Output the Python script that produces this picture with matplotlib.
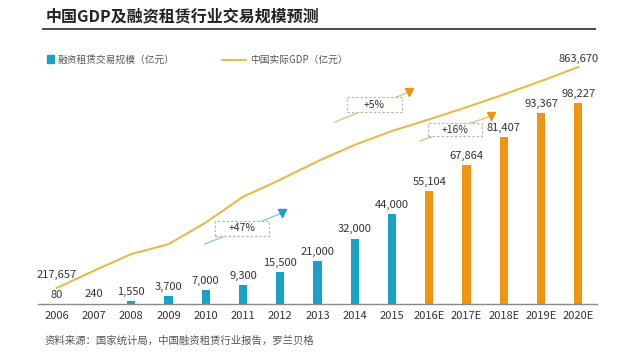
import matplotlib
matplotlib.use("Agg")
import matplotlib.pyplot as plt
from matplotlib.patches import Rectangle, FancyBboxPatch
from matplotlib.lines import Line2D

plt.rcParams['font.family'] = ['Noto Sans CJK SC', 'DejaVu Sans']

years = ["2006", "2007", "2008", "2009", "2010", "2011", "2012", "2013",
         "2014", "2015", "2016E", "2017E", "2018E", "2019E", "2020E"]
leasing = [80, 240, 1550, 3700, 7000, 9300, 15500, 21000, 32000, 44000,
           55104, 67864, 81407, 93367, 98227]
gdp = [217657, 268019, 316752, 345629, 408903, 484124, 534123, 588019,
       636139, 676708, 710543, 746071, 783374, 822543, 863670]
n_actual = 10

TEAL = "#17a2c6"
ORANGE = "#ef9512"
GOLD = "#e9b949"
TXT = "#333333"

W, H = 640, 357
fig = plt.figure(figsize=(6.4, 3.57), dpi=100)
fig.patch.set_facecolor("white")

def fx(x):
    return x / W

def fy(y):
    return 1 - y / H

ax = fig.add_axes([fx(38), fy(304), fx(597) - fx(38), fy(60) - fy(304)])
ax2 = ax.twinx()
ax2.set_position(ax.get_position())

x = list(range(len(years)))
colors = [TEAL if i < n_actual else ORANGE for i in x]
ax.bar(x, leasing, width=0.22, color=colors, zorder=2)
for i, v in enumerate(leasing):
    ax.annotate(f"{v:,}", (i, v), xytext=(0, 3), textcoords="offset points",
                ha="center", va="bottom", fontsize=8, color=TXT)

ax.set_xlim(-0.5, len(years) - 0.5)
ax.set_ylim(0, 119240)
ax.set_xticks(x)
ax.set_xticklabels(years, fontsize=8, color=TXT)
ax.tick_params(axis="x", length=0, pad=5)
ax.set_yticks([])
for s in ["top", "right", "left"]:
    ax.spines[s].set_visible(False)
ax.spines["bottom"].set_color("#8a8a8a")
ax.spines["bottom"].set_linewidth(1.0)

ax2.plot(x, gdp, color=GOLD, lw=1.5, zorder=3)
ax2.set_ylim(170887, 884132)
ax2.set_xlim(-0.5, len(years) - 0.5)
ax2.set_yticks([])
for s in ["top", "right", "left", "bottom"]:
    ax2.spines[s].set_visible(False)
ax2.annotate(f"{gdp[0]:,}", (x[0], gdp[0]), xytext=(0, 6), textcoords="offset points",
             ha="center", va="bottom", fontsize=8, color=TXT)
ax2.annotate(f"{gdp[-1]:,}", (x[-1], gdp[-1]), xytext=(0, 2), textcoords="offset points",
             ha="center", va="bottom", fontsize=8, color=TXT)

# Title and rule
fig.text(fx(46), fy(16), "中国GDP及融资租赁行业交易规模预测", fontsize=11.5, fontweight="bold",
         color="#222222", ha="left", va="center")
fig.add_artist(Line2D([fx(43), fx(595)], [fy(29), fy(29)], color="#4a4a4a", lw=1.4))

# Legend
fig.add_artist(Rectangle((fx(47), fy(63)), fx(7), fy(55) - fy(63), color=TEAL, transform=fig.transFigure))
fig.text(fx(57), fy(59.5), "融资租赁交易规模（亿元）", fontsize=7, color="#555555", ha="left", va="center")
fig.add_artist(Line2D([fx(222), fx(246)], [fy(60), fy(60)], color=GOLD, lw=1.4))
fig.text(fx(250), fy(59.5), "中国实际GDP（亿元）", fontsize=7, color="#555555", ha="left", va="center")

# Source
fig.text(fx(45), fy(341), "资料来源：国家统计局，中国融资租赁行业报告，罗兰贝格", fontsize=7.5,
         color="#555555", ha="left", va="center")

# Growth annotations
def growth(box, start, end, head_color, line_color, label):
    x0, y0, x1, y1 = box
    fig.add_artist(Line2D([fx(start[0]), fx(end[0])], [fy(start[1]), fy(end[1])],
                          color=line_color, lw=1.0, zorder=4))
    fig.add_artist(FancyBboxPatch((fx(x0), fy(y1)), fx(x1 - x0), fy(y0) - fy(y1),
                                  boxstyle="square,pad=0", transform=fig.transFigure,
                                  facecolor="white", edgecolor="#b9b9b9", lw=0.9,
                                  linestyle=(0, (2, 1.5)), zorder=5))
    fig.text(fx((x0 + x1) / 2), fy((y0 + y1) / 2), label, fontsize=7.5, color=TXT,
             ha="center", va="center", zorder=6)
    fig.add_artist(Line2D([fx(end[0])], [fy(end[1])], marker="v", markersize=6,
                          color=head_color, lw=0, zorder=6))

growth((215, 221, 269, 236), (205, 244), (282, 213), TEAL, "#8fcbd6", "+47%")
growth((347, 97, 402, 112), (335, 122), (409, 92), ORANGE, "#d9c97a", "+5%")
growth((428, 123, 482, 136), (420, 141), (491, 116), ORANGE, "#d9c97a", "+16%")

fig.savefig("out.png", dpi=100, facecolor="white")
